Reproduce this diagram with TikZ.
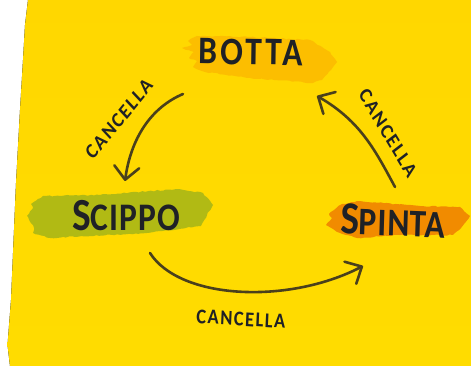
\documentclass[tikz,border=0pt]{standalone}
\usepackage{fontspec}
\setmainfont{Carlito}[BoldFont=Carlito Bold]
\usetikzlibrary{arrows.meta,decorations.pathmorphing,bending}
\definecolor{paper}{HTML}{FFD900}
\definecolor{ink}{HTML}{1F2126}
\definecolor{arrowink}{HTML}{4A401C}
\definecolor{bottac}{HTML}{FCBE00}
\definecolor{scippoc}{HTML}{B1BA14}
\definecolor{spintac}{HTML}{F18B00}
\newcommand{\bigS}{{\fontsize{46}{46}\selectfont S}}
\tikzset{
  brush/.style={decorate,decoration={random steps,segment length=3pt,amplitude=0.6pt}},
  title/.style={text=ink,font=\bfseries\fontsize{39}{39}\selectfont,inner sep=0pt,xscale=0.86},
  small/.style={text=ink,font=\bfseries\addfontfeature{LetterSpace=8}\fontsize{21}{21}\selectfont,inner sep=0pt,xscale=0.88},
  flow/.style={draw=arrowink,line width=2.6pt,line cap=round,
    -{Straight Barb[length=13pt,width=25pt,round,line width=2.6pt,flex=1]}}
}
\begin{document}
\begin{tikzpicture}[x=1pt,y=-1pt]
\useasboundingbox (0,0) rectangle (471,366);
\fill[white] (0,0) rectangle (471,366);
\fill[top color=paper!98!orange,bottom color=paper!92!yellow]
  (28,0) -- (25,25) -- (23,60) -- (20,110) -- (16,183) -- (11,300) -- (7.5,345) -- (10,366) -- (471,366) -- (471,0) -- cycle;
% brush strokes
\pgfmathsetseed{7}
\fill[bottac,brush] (182,48) -- (192,45) -- (188,41) -- (197,36) -- (250,37) -- (310,40) -- (322,47) -- (330,52) -- (337,62) -- (331,70) -- (322,80) -- (313,83) -- (250,78) -- (205,72) -- (193,67) -- (197,61) -- (189,58) -- (194,52) -- cycle;
\fill[scippoc,brush] (27,216) -- (33,207) -- (31,204) -- (43,196) -- (100,195) -- (177,189) -- (203,193) -- (213,205) -- (207,215) -- (201,226) -- (147,233) -- (50,238) -- (33,233) -- (34,228) -- cycle;
\fill[spintac,brush] (326,225) -- (332,218) -- (329,214) -- (340,205) -- (357,201) -- (420,206) -- (460,207) -- (470,216) -- (461,228) -- (453,235) -- (400,235) -- (357,238) -- (340,233) -- (333,229) -- cycle;
% labels
\node[title,rotate=-1] (botta) at (251,52) {\addfontfeature{LetterSpace=9}BOTTA};
\node[title] (scippo) at (126,216) {\addfontfeature{LetterSpace=3}\bigS CIPPO};
\node[title,rotate=-2] (spinta) at (393,221) {\addfontfeature{LetterSpace=2}\bigS PINTA};
\node[small,rotate=47] (c1) at (119,119) {CANCELLA};
\node[small,rotate=-56] (c2) at (388,133) {CANCELLA};
\node[small,rotate=-3] (c3) at (241,319) {CANCELLA};
% connectors
\coordinate (a1) at (183,94);
\coordinate (a2) at (125,181);
\coordinate (b1) at (395,187);
\coordinate (b2) at (317,96);
\coordinate (d1) at (150,253);
\coordinate (d2) at (363,266);
\draw[flow] (a1) .. controls (150,108) and (130,140) .. (a2);
\draw[flow] (b1) .. controls (375,150) and (360,120) .. (b2);
\draw[flow] (d1) .. controls (180,300) and (290,305) .. (d2);
\end{tikzpicture}
\end{document}
